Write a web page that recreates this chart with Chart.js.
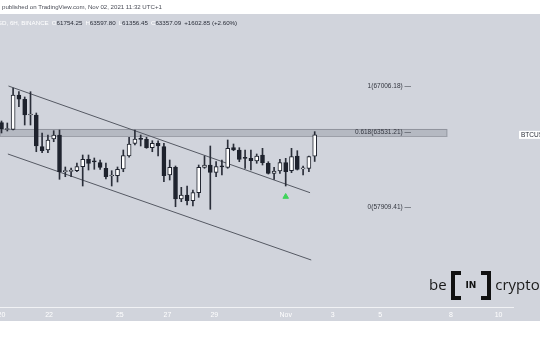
<!DOCTYPE html>
<html>
<head>
<meta charset="utf-8">
<script src="https://cdn.jsdelivr.net/npm/chart.js@4.4.1/dist/chart.umd.min.js"></script>
<style>
  html, body { margin: 0; padding: 0; background: #fff; }
  #wrap { position: relative; width: 540px; height: 340px; overflow: hidden; font-family: "Liberation Sans", Arial, sans-serif; }
  #pane { position: absolute; left: 0; top: 14px; width: 540px; height: 307px; background: #d1d4dc; }
  #chart { position: absolute; left: 0; top: 0; }
  #pub { position: absolute; left: 2px; top: 3px; font-size: 6.1px; color: #4a4d57; white-space: nowrap; }
  #legend { position: absolute; left: -19px; top: 18.5px; font-size: 6.2px; color: #2a2e39; white-space: nowrap; }
  #legend .w { color: #fff; }
  #legend .g { margin-left: 3px; }
  #logo { position: absolute; left: 429px; top: 271px; height: 30px; white-space: nowrap; font-family: "Open Sans", sans-serif; font-size: 15px; color: #1b1b1b; }
  #logo span { display: inline-block; vertical-align: top; }
  .txt { line-height: 26px; }
  .br { width: 14px; height: 29px; position: relative; }
  .br i { position: absolute; top: 0; width: 6px; height: 21px; border: 4px solid #111; }
  .br.l i { left: 0; border-right: none; }
  .br.r i { right: 0; border-left: none; }
  .in { font-family: "DejaVu Sans", sans-serif; font-weight: bold; font-size: 9px; line-height: 29px; margin: 0 1px; color: #111; }
</style>
</head>
<body>
<div id="wrap">
  <div id="pane"></div>
  <canvas id="chart" width="540" height="340"></canvas>
  <div id="pub">published on TradingView.com, Nov 02, 2021 11:32 UTC+1</div>
  <div id="legend"><span class="w">BTCUSD, 6H, BINANCE</span><span class="g w">O</span>61754.25<span class="g w">H</span>63597.80<span class="g w">L</span>61356.45<span class="g w">C</span>63357.09<span class="g">+1602.85 (+2.60%)</span></div>
  <div id="logo"><span class="txt">be&nbsp;</span><span class="br l"><i></i></span><span class="in">IN</span><span class="br r"><i></i></span><span class="txt">&nbsp;crypto</span></div>
</div>
<script>
// 6h candles, BTCUSD (Binance)
var opens  = [64271, 63760, 63775, 66354, 66031, 64850, 64850, 62466, 62218, 63045,
              63346, 60586, 60600, 60662, 60962, 61519, 61340, 61263, 60842, 60260,
              60285, 60789, 61767, 62722, 63030, 63023, 62391, 62722, 62466, 60338,
              60917, 58533, 58834, 58405, 59007, 60917, 61090, 60541, 60990, 60917,
              62391, 62218, 61600, 61594, 61391, 61842, 61218, 60466, 60639, 61263,
              60662, 61767, 60800, 60842, 61754.25];
var highs  = [64399, 64249, 66880, 66602, 66204, 66602, 65000, 63496, 63346, 63669,
              63722, 60940, 60866, 61240, 61842, 61842, 61616, 61466, 61240, 60662,
              60940, 62218, 63173, 63722, 63346, 63173, 62917, 62917, 62722, 61466,
              61015, 59413, 59511, 59210, 61090, 61767, 62519, 61338, 61466, 62970,
              62669, 62391, 62218, 62218, 61917, 62346, 61338, 60917, 61519, 61594,
              62346, 62165, 61015, 61767, 63597.80];
var lows   = [63496, 63647, 63722, 65474, 64098, 64098, 62090, 62015, 62015, 62842,
              60015, 60210, 60210, 60586, 59511, 60714, 60767, 60767, 60037, 59511,
              59812, 60586, 61670, 62594, 62519, 62346, 62090, 61767, 59834, 59962,
              57954, 58330, 58082, 58007, 58661, 60842, 57759, 60210, 60338, 60842,
              62165, 61338, 60842, 60714, 61218, 61090, 60413, 60015, 60466, 59511,
              60511, 60714, 60338, 60586, 61356.45];
var closes = [63797, 63800, 66354, 66031, 64850, 64880, 62519, 62165, 62970, 63346,
              60586, 60620, 60700, 60962, 61519, 61218, 61330, 60917, 60210, 60280,
              60767, 61790, 62669, 63045, 63020, 62391, 62722, 62519, 60285, 60917,
              58533, 58834, 58405, 59007, 60917, 61090, 60541, 60962, 60950, 62346,
              62218, 61519, 61590, 61413, 61767, 61263, 60466, 60639, 61263, 60586,
              61714, 60767, 60830, 61714, 63357.09];

// x axis ticks (position in candle slots) and their labels
var tickDays = ["20", "22", "25", "27", "29", "Nov", "3", "5", "8", "10"];
var tickPos  = [0, 8.2, 20.4, 28.6, 36.7, 49, 57.1, 65.3, 77.5, 85.7];

// drawn trend channel: [slot, price]
var upperLine = [[1.2, 67030], [53.2, 59007]];
var lowerLine = [[1.1, 61917], [53.4, 53946]];

// fib retracement levels
var fibLevels = ["1", "0.618", "0"];
var fibPrices = [67006.18, 63531.21, 57909.41];
var fibZone = [63270, 63800];
var signal = [49, 58706];

var wickData = [], bodyData = [], bodyColors = [];
for (var i = 0; i < opens.length; i++) {
    wickData.push({ x: i, y: [lows[i], highs[i]] });
    bodyData.push({ x: i, y: [opens[i], closes[i]] });
    bodyColors.push(closes[i] >= opens[i] ? "#ffffff" : "#1e222d");
}

var overlay = {
    id: "overlay",
    beforeDatasetsDraw: function (chart) {
        var ctx = chart.ctx, x = chart.scales.x, y = chart.scales.y;
        var x0 = x.getPixelForValue(x.min), x1 = x.getPixelForValue(76.8);
        var y0 = y.getPixelForValue(fibZone[1]), y1 = y.getPixelForValue(fibZone[0]);
        ctx.save();
        ctx.fillStyle = "rgba(130,134,145,0.35)";
        ctx.fillRect(x0, y0, x1 - x0, y1 - y0);
        ctx.strokeStyle = "rgba(120,124,134,0.6)";
        ctx.lineWidth = 1;
        ctx.strokeRect(x0, Math.round(y0) + 0.5, x1 - x0, Math.round(y1 - y0));
        ctx.restore();
    },
    afterDatasetsDraw: function (chart) {
        var ctx = chart.ctx, x = chart.scales.x, y = chart.scales.y;
        ctx.save();
        ctx.font = "6.5px 'Liberation Sans', Arial, sans-serif";
        ctx.fillStyle = "#33363f";
        ctx.textAlign = "right";
        ctx.textBaseline = "middle";
        var xr = x.getPixelForValue(70.6);
        fibLevels.forEach(function (lv, k) {
            ctx.fillText(lv + "(" + fibPrices[k].toFixed(2) + ") \u2014", xr, y.getPixelForValue(fibPrices[k]));
        });
        // last price label on the price scale
        var py = y.getPixelForValue(closes[closes.length - 1]);
        ctx.fillStyle = "#ffffff";
        ctx.fillRect(chart.chartArea.right + 6, py - 4, 40, 8);
        ctx.fillStyle = "#2a2e39";
        ctx.textAlign = "left";
        ctx.fillText("BTCUSD", chart.chartArea.right + 8, py + 0.5);
        ctx.restore();
    }
};

new Chart(document.getElementById("chart").getContext("2d"), {
    type: "bar",
    data: {
        datasets: [
            {
                type: "line",
                data: upperLine.map(function (p) { return { x: p[0], y: p[1] }; }),
                borderColor: "#555963",
                borderWidth: 1,
                pointRadius: 0,
                order: 3,
            },
            {
                type: "line",
                data: lowerLine.map(function (p) { return { x: p[0], y: p[1] }; }),
                borderColor: "#555963",
                borderWidth: 1,
                pointRadius: 0,
                order: 3,
            },
            {
                data: wickData,
                backgroundColor: "#2a2e39",
                barThickness: 1,
                stack: "c",
                order: 2,
            },
            {
                data: bodyData,
                backgroundColor: bodyColors,
                borderColor: "#1e222d",
                borderWidth: 1,
                borderSkipped: false,
                barThickness: 4,
                minBarLength: 1,
                stack: "c",
                order: 1,
            },
            {
                type: "line",
                data: [{ x: signal[0], y: signal[1] }],
                showLine: false,
                pointStyle: "triangle",
                pointRadius: 3.2,
                backgroundColor: "#3fd35a",
                borderColor: "#3fd35a",
                order: 0,
            },
        ],
    },
    options: {
        responsive: false,
        animation: false,
        devicePixelRatio: 1,
        layout: { autoPadding: false, padding: { top: 14, bottom: 19, left: 0, right: 0 } },
        plugins: { legend: { display: false }, tooltip: { enabled: false } },
        scales: {
            x: {
                type: "linear",
                offset: false,
                min: -0.26,
                max: 88.19,
                grid: { display: false, drawTicks: false },
                border: { display: true, color: "rgba(255,255,255,0.7)" },
                afterBuildTicks: function (s) {
                    s.ticks = tickPos.map(function (v) { return { value: v }; });
                },
                afterFit: function (s) {
                    s.height = 14;
                    s.paddingLeft = 0;
                    s.paddingRight = 0;
                },
                ticks: {
                    autoSkip: false,
                    maxRotation: 0,
                    padding: 4,
                    color: "#ffffff",
                    font: { family: "'Liberation Sans', Arial, sans-serif", size: 7 },
                    callback: function (v, i) { return tickDays[i]; },
                },
            },
            y: {
                position: "right",
                stacked: false,
                min: 50412,
                max: 72445,
                grid: { display: false },
                border: { display: false },
                ticks: { display: false },
                afterFit: function (s) { s.width = 27; },
            },
        },
    },
    plugins: [overlay],
});
</script>
</body>
</html>
